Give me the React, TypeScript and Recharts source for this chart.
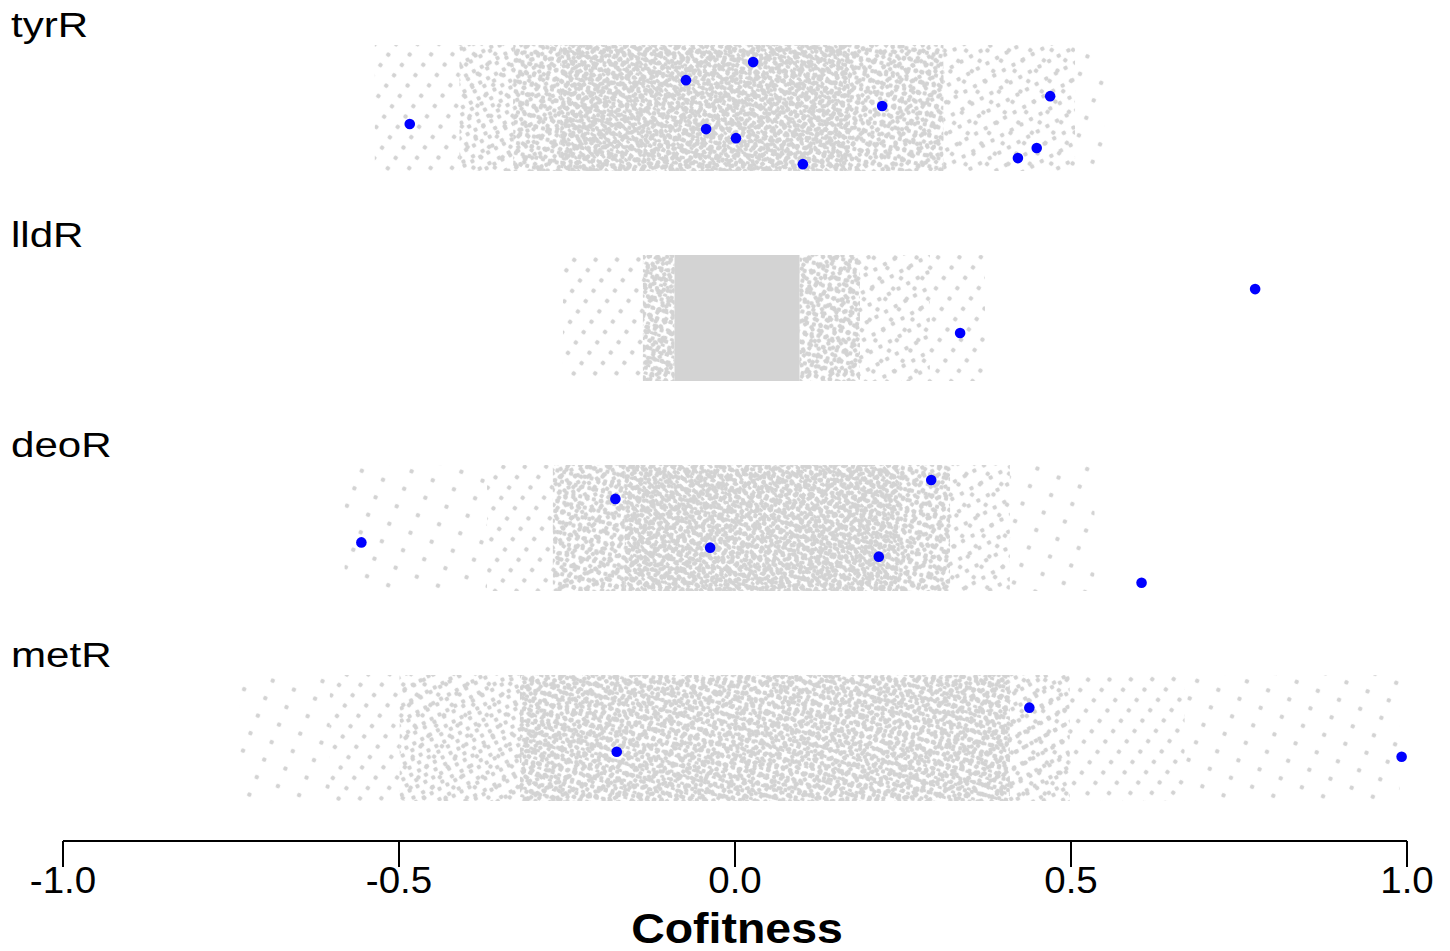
import React from 'react'
import { ScatterChart, Scatter, XAxis, YAxis, ReferenceArea } from 'recharts'

const FONT = '"Liberation Sans", Arial, Helvetica, sans-serif'

const ROW_NAMES = ['tyrR', 'lldR', 'deoR', 'metR']
const ROW_CENTERS = [3.49, 2.49, 1.49, 0.49]
const ROW_LABEL_OFFSET = 0.339
const CLOUD_HALF = 0.3
const X_TICKS = [-1, -0.5, 0, 0.5, 1]

// background cloud of all genes, read as bands: [from, to, density level 1..8]
const TYRR_BANDS = [
  [-0.536, -0.41, 2],
  [-0.41, -0.33, 4],
  [-0.33, -0.26, 5],
  [-0.26, 0.171, 7],
  [0.171, 0.31, 5],
  [0.31, 0.506, 3],
  [0.506, 0.55, 1],
]
const LLDR_BANDS = [
  [-0.256, -0.137, 2],
  [-0.137, -0.09, 6],
  [-0.09, 0.096, 8],
  [0.096, 0.186, 5],
  [0.186, 0.29, 3],
  [0.29, 0.372, 2],
]
const DEOR_BANDS = [
  [-0.581, -0.369, 1],
  [-0.369, -0.271, 2],
  [-0.271, -0.164, 5],
  [-0.164, 0.245, 7],
  [0.245, 0.32, 5],
  [0.32, 0.409, 3],
  [0.409, 0.535, 1],
]
const METR_BANDS = [
  [-0.737, -0.603, 1],
  [-0.603, -0.499, 2],
  [-0.499, -0.32, 4],
  [-0.32, 0.409, 6],
  [0.409, 0.498, 4],
  [0.498, 0.669, 2],
  [0.669, 0.989, 1],
]

// highlighted genes (blue): cofitness and vertical jitter within the row
const TYRR_X = [-0.484, -0.073, 0.027, -0.043, 0.0015, 0.101, 0.219, 0.469, 0.449, 0.421]
const TYRR_JIT = [-0.076, 0.133, 0.219, -0.1, -0.143, -0.267, 0.01, 0.057, -0.19, -0.238]
const LLDR_X = [0.335, 0.774]
const LLDR_JIT = [-0.071, 0.138]
const DEOR_X = [-0.556, -0.178, -0.037, 0.214, 0.292, 0.605]
const DEOR_JIT = [-0.068, 0.139, -0.093, -0.136, 0.229, -0.26]
const METR_X = [-0.176, 0.438, 0.992]
const METR_JIT = [-0.065, 0.145, -0.089]

const BANDS = [TYRR_BANDS, LLDR_BANDS, DEOR_BANDS, METR_BANDS]
const HITS_X = [TYRR_X, LLDR_X, DEOR_X, METR_X]
const HITS_JIT = [TYRR_JIT, LLDR_JIT, DEOR_JIT, METR_JIT]

// stipple layers (texture only), rotated so the overlay looks scattered
const LAYERS = [
  { id: 'dz', w: 23, h: 19, cx: 11, cy: 7, rot: 23 },
  { id: 'da', w: 17, h: 13, cx: 3, cy: 5, rot: 37 },
  { id: 'db', w: 11, h: 14, cx: 8, cy: 2, rot: -29 },
  { id: 'dc', w: 13, h: 9, cx: 6, cy: 7, rot: 61 },
  { id: 'dd', w: 9, h: 11, cx: 2, cy: 9, rot: -53 },
  { id: 'de', w: 7, h: 10, cx: 5, cy: 3, rot: 13 },
  { id: 'df', w: 8, h: 7, cx: 1, cy: 4, rot: -71 },
  { id: 'dg', w: 6, h: 7, cx: 4, cy: 1, rot: 47 },
]
const LEVEL_LAYERS: Record<number, string[]> = {
  1: ['dz'],
  2: ['da'],
  3: ['da', 'db'],
  4: ['da', 'db', 'dc'],
  5: ['da', 'db', 'dc', 'dd', 'de'],
  6: ['da', 'db', 'dc', 'dd', 'de', 'df'],
  7: ['da', 'db', 'dc', 'dd', 'de', 'df', 'dg'],
}
const GRAY = '#d3d3d3'

const hits = HITS_X.flatMap((xs, r) =>
  xs.map((x, i) => ({ x, y: ROW_CENTERS[r] + HITS_JIT[r][i] }))
)

const rowLabelTicks = ROW_CENTERS.map((c) => c + ROW_LABEL_OFFSET)

function XTick({ x, y, payload }: any) {
  return (
    <text
      transform={`translate(${x},${y + 26}) scale(1.07,1)`}
      textAnchor="middle"
      fontSize={36}
      fontFamily={FONT}
      fill="#000"
    >
      {Number(payload.value).toFixed(1)}
    </text>
  )
}

function RowTick({ y, payload }: any) {
  const idx = rowLabelTicks.findIndex((t) => Math.abs(t - payload.value) < 1e-6)
  return (
    <text transform={`translate(11,${y}) scale(1.17,1)`} fontSize={36} fontFamily={FONT} fill="#000">
      {ROW_NAMES[idx]}
    </text>
  )
}

function AxisTitle({ viewBox }: any) {
  const cx = viewBox.x + viewBox.width / 2 + 2
  return (
    <text
      transform={`translate(${cx},943) scale(1.08,1)`}
      textAnchor="middle"
      fontSize={43}
      fontWeight={700}
      fontFamily={FONT}
      fill="#000"
    >
      Cofitness
    </text>
  )
}

export default function App() {
  const areas: React.ReactNode[] = []
  BANDS.forEach((bands, r) => {
    bands.forEach(([from, to, level], b) => {
      const y1 = ROW_CENTERS[r] - CLOUD_HALF
      const y2 = ROW_CENTERS[r] + CLOUD_HALF
      const fills = level >= 8 ? [GRAY] : LEVEL_LAYERS[level].map((id) => `url(#${id})`)
      fills.forEach((fill, k) => {
        areas.push(
          <ReferenceArea
            key={`${r}-${b}-${k}`}
            x1={from}
            x2={to}
            y1={y1}
            y2={y2}
            fill={fill}
            fillOpacity={1}
            stroke="none"
          />
        )
      })
    })
  })

  return (
    <div style={{ position: 'absolute', left: 0, top: 0, width: 1450, height: 951, background: '#fff' }}>
      <svg width={0} height={0} style={{ position: 'absolute' }}>
        <defs>
          {LAYERS.map((l) => (
            <pattern
              key={l.id}
              id={l.id}
              width={l.w}
              height={l.h}
              patternUnits="userSpaceOnUse"
              patternTransform={`rotate(${l.rot})`}
            >
              <circle cx={l.cx} cy={l.cy} r={2.25} fill={GRAY} />
            </pattern>
          ))}
        </defs>
      </svg>
      <ScatterChart width={1450} height={951} margin={{ top: 1, right: 43, bottom: 0, left: 0 }}>
        <XAxis
          dataKey="x"
          type="number"
          domain={[-1, 1]}
          ticks={X_TICKS}
          interval={0}
          height={110}
          tickSize={26}
          tickMargin={0}
          axisLine={{ stroke: '#000', strokeWidth: 2 }}
          tickLine={{ stroke: '#000', strokeWidth: 2 }}
          tick={<XTick />}
          label={<AxisTitle />}
        />
        <YAxis
          dataKey="y"
          type="number"
          domain={[0, 4]}
          ticks={rowLabelTicks}
          interval={0}
          width={63}
          axisLine={false}
          tickLine={false}
          tick={<RowTick />}
        />
        {areas}
        <Scatter
          data={hits}
          isAnimationActive={false}
          shape={(p: any) => <circle cx={p.cx} cy={p.cy} r={5.3} fill="#0000ff" />}
        />
      </ScatterChart>
    </div>
  )
}
